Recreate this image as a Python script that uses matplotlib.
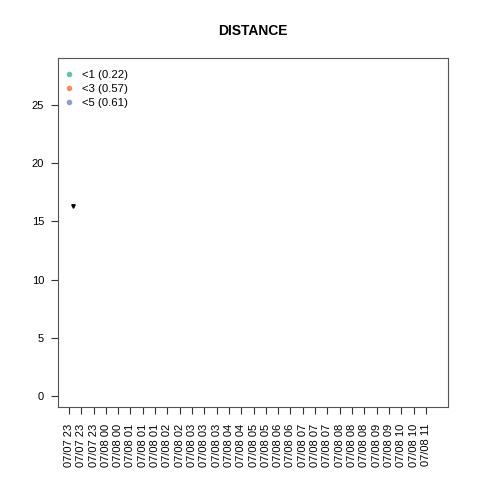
import matplotlib
matplotlib.use('Agg')
import matplotlib.pyplot as plt

plt.rcParams['font.family'] = ['Liberation Sans', 'DejaVu Sans']

tick_labels = ['07/07 23', '07/07 23', '07/07 23', '07/08 00', '07/08 00',
               '07/08 01', '07/08 01', '07/08 01', '07/08 02', '07/08 02',
               '07/08 03', '07/08 03', '07/08 03', '07/08 04', '07/08 04',
               '07/08 05', '07/08 05', '07/08 06', '07/08 06', '07/08 07',
               '07/08 07', '07/08 07', '07/08 08', '07/08 08', '07/08 08',
               '07/08 09', '07/08 09', '07/08 10', '07/08 10', '07/08 11']
point_x = [0.3]
point_y = [16.35]
legend_labels = ['<1 (0.22)', '<3 (0.57)', '<5 (0.61)']
legend_colors = ['#66C2A5', '#FC8D62', '#8DA0CB']

fig = plt.figure(figsize=(4.8, 4.8), dpi=100)
ax = fig.add_axes([58 / 480, 1 - 407 / 480, 390 / 480, 349 / 480])

ax.plot(point_x, point_y, marker='v', color='black', markersize=2.5, linestyle='none')

handles = []
for lab, col in zip(legend_labels, legend_colors):
    h, = ax.plot([], [], marker='o', color=col, markersize=3, linestyle='none', label=lab)
    handles.append(h)
ax.legend(handles=handles, loc='upper left', frameon=False, fontsize=8.2,
          handletextpad=0.5, labelspacing=0.38, borderaxespad=0.0,
          handlelength=1.2, bbox_to_anchor=(0.0, 0.98))

ax.set_xlim(-0.89, 30.8)
ax.set_ylim(-0.95, 29.05)
ax.set_xticks(range(len(tick_labels)))
ax.set_xticklabels(tick_labels, rotation=90, fontsize=8)
ax.set_yticks([0, 5, 10, 15, 20, 25])
ax.tick_params(axis='both', direction='out', length=5, width=0.8, labelsize=8, color='#333333')
ax.tick_params(axis='x', pad=7)
ax.tick_params(axis='y', pad=5)
for s in ax.spines.values():
    s.set_color('#555555')
    s.set_linewidth(0.8)

fig.suptitle('DISTANCE', fontsize=10, fontweight='bold', x=253 / 480, y=1 - 24 / 480)

fig.savefig('out.png', dpi=100)
